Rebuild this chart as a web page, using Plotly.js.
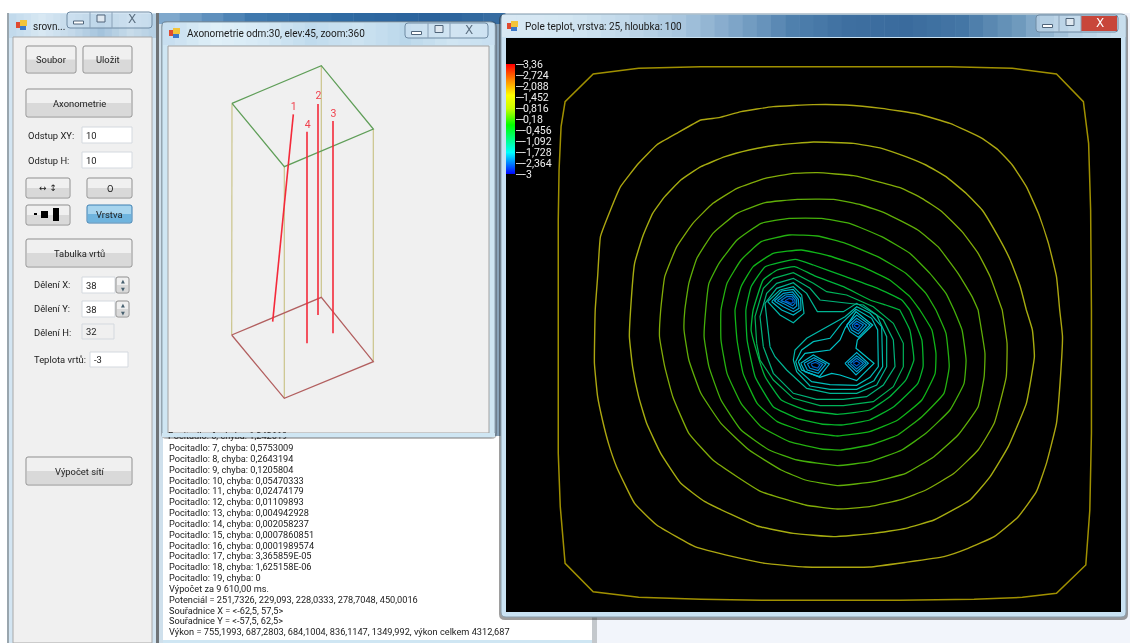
<!DOCTYPE html>
<html><head><meta charset="utf-8">
<script src="https://cdn.plot.ly/plotly-3.0.1.min.js"></script>
<style>html,body{margin:0;padding:0;background:#fff;overflow:hidden}#plot{width:1130px;height:643px;filter:blur(0.45px)}</style>
</head><body><div id="plot"></div>
<script>
// ---- Temperature field contours: flat x,y lists.
const upper01=[145,900,145,630,147,480,152,350,162,275,232,192,345,175,500,170,820,170,1120,170,1275,175,1385,192,1452,275,1465,400,1470,600,1472,900];
const lower01=[145,0,145,430,150,590,162,760,232,845,345,862,500,868,650,871,995,871,1180,868,1300,862,1385,850,1458,765,1468,600,1472,370,1472,0];
const upper02=[237,900,243,800,250,680,275,600,300,530,345,460,390,405,440,370,500,330,545,323,600,305,680,290,780,284,860,285,950,295,1040,312,1120,340,1200,385,1240,420,1275,465,1310,530,1340,610,1365,700,1385,800,1393,900];
const lower02=[237,0,235,160,243,260,255,330,270,400,290,470,335,580,390,645,485,710,580,740,660,760,760,771,920,771,1010,757,1105,740,1165,715,1230,680,1290,620,1335,545,1360,460,1385,340,1395,200,1400,80,1393,0];
const upper03=[325,900,335,760,355,680,380,610,410,560,450,510,500,470,560,440,620,420,690,405,780,396,880,400,950,415,1010,440,1060,465,1110,500,1160,550,1200,600,1240,680,1270,750,1295,830,1310,900];
const lower03=[325,0,322,80,330,170,345,260,365,340,400,430,450,520,510,575,640,648,730,670,830,680,930,670,1010,655,1080,630,1170,570,1220,500,1265,410,1310,280,1330,140,1325,60,1310,0];
const upper04=[400,900,410,800,440,710,480,640,530,580,590,535,660,505,730,490,790,488,880,497,940,515,1000,535,1050,565,1100,605,1150,665,1190,730,1220,800,1250,900];
const lower04=[400,0,397,80,410,170,430,260,470,370,530,450,590,500,650,545,760,585,840,597,920,590,1000,568,1060,540,1130,490,1190,420,1230,340,1260,200,1262,100,1250,0];
const upper05=[460,900,470,820,490,745,530,670,590,610,660,578,740,568,830,568,900,585,960,610,1040,660,1090,710,1140,790,1175,860,1190,900];
const lower05=[460,0,458,60,470,150,500,250,550,340,620,420,700,480,760,510,840,527,930,515,1010,490,1080,440,1140,375,1190,290,1205,200,1207,130,1190,0];
const upper06=[512,900,520,820,545,760,590,690,650,640,720,625,800,625,870,640,950,680,1020,730,1070,790,1110,850,1130,900];
const lower06=[512,0,508,80,520,170,550,270,600,360,670,420,740,450,840,467,920,455,1000,420,1060,370,1120,300,1155,220,1160,150,1150,60,1130,0];
const upper07=[550,900,565,820,600,750,650,695,720,675,790,678,860,700,940,740,1010,790,1060,850,1085,900];
const lower07=[550,0,550,90,565,190,600,280,650,350,720,395,800,417,850,420,920,405,990,375,1050,320,1105,250,1118,170,1110,70,1085,0];
const upper08=[585,900,600,830,630,770,680,730,750,720,820,738,900,770,970,810,1020,860,1045,900];
const lower08=[585,0,590,90,605,190,640,280,690,335,760,365,840,378,920,365,990,330,1050,270,1083,190,1085,130,1075,60,1045,0];
const upper09=[612,900,625,830,660,770,735,748,780,765,860,800,940,835,1000,870,1020,900];
const lower09=[612,0,615,90,635,200,680,290,740,325,800,342,850,345,920,330,980,290,1040,220,1053,170,1050,90,1020,0];
const upper10=[630,900,655,810,690,780,733,770,788,800,855,830,921,870,960,885,995,900];
const lower10=[630,0,625,60,640,130,660,200,700,270,760,300,840,313,920,300,970,260,1010,210,1030,150,1020,60,995,0];
const contourColors=['#a09000','#aca610','#a6ac10','#82ac08','#60ae08','#44b00a','#24b010','#10b418','#06b42a','#00b43c'];
// Inner contours around the four wells (finer coordinates).
const loop11=[80,250,75,170,100,85,130,55,190,38,250,70,290,95,350,105,430,140,490,190,520,250,520,320,490,380,430,425,340,437,270,437,190,415,130,360,90,300,80,250];
const loop12=[100,260,90,170,110,100,140,70,190,55,240,85,270,120,340,128,400,135,460,180,490,240,495,320,460,375,410,410,340,418,260,418,190,400,130,340,100,260];
const loop13=[120,260,105,130,140,85,190,68,230,100,262,155,340,155,380,130,440,165,470,230,470,320,440,375,380,400,300,400,230,385,170,330,135,290,120,260];
const loop14a=[113,125,150,90,190,80,215,105,222,160,190,188,150,165,113,125];
const loop14b=[190,300,195,270,230,235,300,195,345,170,380,140,420,160,455,200,458,320,432,362,380,388,300,388,240,378,200,335,190,300];
const loop14c=[197,305,215,270,250,245,300,235,335,190,378,148,425,175,443,210,445,320,420,352,380,376,300,374,245,365,205,330,197,305];
const loop15=[205,305,225,280,300,270,330,240,345,205,378,155,428,195,382,240,378,265,432,310,380,362,330,345,305,340,270,352,215,330,205,305];
const wellA1=[125,125,155,93,190,88,212,115,213,150,190,165,155,150,125,125];
const wellA2=[133,123,160,100,188,96,205,118,207,145,190,155,160,140,133,123];
const wellA3=[142,122,165,105,187,103,200,120,200,138,190,146,165,133,142,122];
const wellA4=[152,122,170,110,186,110,195,122,195,130,188,137,170,128,152,122];
const wellA5=[165,122,178,115,187,118,190,127,183,130,165,122];
const wellB1=[350,195,380,165,420,195,385,232,360,215,350,195];
const wellB2=[358,195,380,175,410,195,385,222,365,210,358,195];
const wellB3=[366,195,380,183,400,195,385,213,370,205,366,195];
const wellB4=[372,197,380,190,390,197,382,205,372,197];
const wellC1=[345,310,380,278,415,310,378,345,345,310];
const wellC2=[353,310,380,287,408,310,380,335,353,310];
const wellC3=[361,310,380,295,400,310,380,327,361,310];
const wellC4=[369,310,380,302,390,310,380,318,369,310];
const wellD1=[212,310,250,285,298,312,268,350,225,335,212,310];
const wellD2=[222,310,252,293,288,312,265,340,232,330,222,310];
const wellD3=[232,312,254,300,278,313,264,332,240,325,232,312];
const wellD4=[243,312,256,307,270,314,263,324,248,320,243,312];
// Colour scale
const scaleLevels=[3.36,2.724,2.088,1.452,0.816,0.18,-0.456,-1.092,-1.728,-2.364,-3];
const scaleLabels=['3,36','2,724','2,088','1,452','0,816','0,18','-0,456','-1,092','-1,728','-2,364','-3'];
// Axonometric box and boreholes
const boxTop=[216,265,484,152,640,342,373,455,216,265];
const boxBottom=[215,960,484,847,640,1040,373,1150,215,960];
const edge1=[216,265,215,960], edge2=[484,152,484,847], edge3=[640,342,640,1040], edge4=[373,455,373,1150];
const bore1=[400,298,338,920], bore2=[474,267,474,900], bore3=[519,318,519,955], bore4=[441,350,441,985];
const boreNames=['1','2','3','4'], boreLabelX=[401,475,520,443], boreLabelY=[278,245,297,331];
// Log
const logLines=['Pocitadlo: 7, chyba: 0,5753009','Pocitadlo: 8, chyba: 0,2643194','Pocitadlo: 9, chyba: 0,1205804','Pocitadlo: 10, chyba: 0,05470333','Pocitadlo: 11, chyba: 0,02474179','Pocitadlo: 12, chyba: 0,01109893','Pocitadlo: 13, chyba: 0,004942928','Pocitadlo: 14, chyba: 0,002058237','Pocitadlo: 15, chyba: 0,0007860851','Pocitadlo: 16, chyba: 0,0001989574','Pocitadlo: 17, chyba: 3,365859E-05','Pocitadlo: 18, chyba: 1,625158E-06','Pocitadlo: 19, chyba: 0','Výpočet za 9 610,00 ms.','Potenciál = 251,7326, 229,093, 228,0333, 278,7048, 450,0016','Souřadnice X = <-62,5, 57,5>','Souřadnice Y = <-57,5, 62,5>','Výkon = 755,1993, 687,2803, 684,1004, 836,1147, 1349,992, výkon celkem 4312,687'];

const FONT='Roboto, sans-serif';
const shapes=[], annotations=[], traces=[];
function rect(x0,y0,x1,y1,fill,line,lw,layer){shapes.push({type:'rect',xref:'x',yref:'y',x0,y0,x1,y1,fillcolor:fill,line:{color:line||fill,width:line?(lw||1):0},layer:layer||'below'});}
function rrect(x0,y0,x1,y1,r,fill,line,lw){shapes.push({type:'path',xref:'x',yref:'y',path:`M${x0+r},${y0}L${x1-r},${y0}Q${x1},${y0} ${x1},${y0+r}L${x1},${y1-r}Q${x1},${y1} ${x1-r},${y1}L${x0+r},${y1}Q${x0},${y1} ${x0},${y1-r}L${x0},${y0+r}Q${x0},${y0} ${x0+r},${y0}Z`,fillcolor:fill,line:{color:line||fill,width:line?(lw||1):0},layer:'below'});}
function label(x,y,text,opt){opt=opt||{};annotations.push({xref:'x',yref:'y',x,y,text,showarrow:false,xanchor:opt.anchor||'left',yanchor:'middle',borderpad:0,font:{family:opt.family||FONT,size:opt.size||9.4,color:opt.color||'#1a1a1a'}});}
function button(x0,y0,x1,y1,text,blue){
  rrect(x0,y0,x1,y1,2,blue?'#a6d4ee':'#f0f0f0',blue?'#3c7fb1':'#8f8f8f',1);
  rect(x0+1,(y0+y1)/2,x1-1,y1-1,blue?'#6fb4de':'#d9d9d9');
  if(text)label((x0+x1)/2,(y0+y1)/2,text,{anchor:'center',color:'#1c1c1c'});
}
function box(x0,y0,x1,y1,text,fill){rect(x0,y0,x1,y1,fill||'#fff','#d4d9df',1);if(text)label(x0+3,(y0+y1)/2,text);}
function icon(x,y){rect(x,y+2,x+5,y+8,'#e04a30');rect(x+4,y,x+11,y+6,'#f2c43a');rect(x+4,y+6,x+10,y+10,'#3c78c8');}
function captions(x0,x1,x2,x3,y0,y1,closeCol,glyph){
  rrect(x0,y0,x3,y1,3,'rgba(210,228,242,0.55)','#6f8aa3',1);
  if(closeCol)rect(x2,y0+1,x3-1,y1-1,closeCol);
  shapes.push({type:'line',xref:'x',yref:'y',x0:x1,x1:x1,y0,y1,line:{color:'#8aa2b8',width:1},layer:'below'});
  shapes.push({type:'line',xref:'x',yref:'y',x0:x2,x1:x2,y0,y1,line:{color:'#8aa2b8',width:1},layer:'below'});
  const my=(y0+y1)/2, a=(x0+x1)/2, b=(x1+x2)/2, c=(x2+x3)/2;
  rect(a-5,my+1,a+5,my+4,'#fff','#50657a',1);
  rect(b-4,my-5,b+4,my+2,'#dfe8f0','#50657a',1);
  label(c,my-1,'X',{anchor:'center',size:12,color:glyph,family:'"DejaVu Sans"'});
}
function band(x0,x1,y0,y1,stops){ // title-bar colour wash
  const n=stops.length-1, w=(x1-x0)/(n*4);
  const hex=c=>[1,3,5].map(i=>parseInt(c.substr(i,2),16));
  for(let i=0;i<n;i++){const a=hex(stops[i]),b=hex(stops[i+1]);
    for(let k=0;k<4;k++){const t=k/4,c=a.map((v,j)=>Math.round(v+(b[j]-v)*t));
      rect(x0+(i*4+k)*w,y0,x0+(i*4+k+1)*w+0.5,y1,`rgb(${c})`);}}
}
// ---- backdrop bands
rect(0,13,1130,643,'#f2f5fb');
rect(0,13,7,643,'#fff');
// back window strip
band(158,505,13,24,['#7fa8cc','#3f78ad','#2f6aa2','#2a629b','#3a6fa3']);
rect(495,24,501,437,'#8aa4ba');
// text box
rect(162,436,592,643,'#fff');
rect(162,640,592,643,'#cfe6f3');
rect(592,612,597,643,'#c4c8cc');
// left window
rect(7,13,158,643,'#d3e5f2');
band(9,156,14,38,['#c2daec','#d8e8f3','#c4d9ea','#a4c3dc','#c8dcea','#b0cce2']);
rect(7,13,9,643,'#9aa6ae');
rect(13,37,152,643,'#f0f0f0','#a8a8a8',1);
rect(156,13,159,643,'#6f7478');
rect(159,24,163,643,'#cfe0ec');
icon(16,20);
label(32,26,'srovn...',{size:10});
captions(67,90,112,152,12,28,null,'#5c6f80');
// left controls
button(26,46,76,73,'Soubor');button(83,46,132,73,'Uložit');
button(26,89,132,117,'Axonometrie');
label(27,135,'Odstup XY:');box(82,127,132,143,'10');
label(27,160,'Odstup H:');box(82,152,132,168,'10');
button(26,178,70,198,'');label(48,188,'↔ ↕',{anchor:'center',size:9,family:'"DejaVu Sans"'});
button(87,178,132,198,'O');
button(26,205,70,225,'');rect(34,213,37,215,'#000');rect(41,211,48,218,'#000');rect(53,208,59,221,'#000');
button(87,205,132,223,'Vrstva',true);
button(26,239,132,267,'Tabulka vrtů');
label(33,284,'Dělení X:');box(82,277,115,293,'38');
label(33,308,'Dělení Y:');box(82,301,115,317,'38');
button(116,277,129,293,'');button(116,301,129,317,'');
label(122.5,281,'▲',{anchor:'center',size:5,family:'"DejaVu Sans"',color:'#47606f'});label(122.5,289,'▼',{anchor:'center',size:5,family:'"DejaVu Sans"',color:'#47606f'});
label(122.5,305,'▲',{anchor:'center',size:5,family:'"DejaVu Sans"',color:'#47606f'});label(122.5,313,'▼',{anchor:'center',size:5,family:'"DejaVu Sans"',color:'#47606f'});
label(33,332,'Dělení H:');box(82,324,114,339,'32','#f0f0f0');
label(33,359,'Teplota vrtů:');box(90,352,128,367,'-3');
button(26,457,132,485,'Výpočet sítí');
// axonometry window
rrect(161,21,497,439,6,'rgba(60,60,60,0.35)');
rrect(162,22,495,437,5,'#cfe6f3','#8fa3b2',1);
band(163,494,23,45,['#c8dff0','#e0f0f8','#d6e9f5','#c0dbed','#cde3f1','#bad7ea','#d0e5f2','#c6def0']);
rect(168,46,489,433,'#f0f0f0','#a2a2a2',1);
icon(169,28);
label(186,33,'Axonometrie odm:30, elev:45, zoom:360',{size:10});
captions(405,428,450,488,23,38,null,'#5c6f80');
// thermal window
rrect(499,14,1128,620,6,'rgba(40,40,40,0.45)');
rrect(501,14,1126,617,5,'#c9e2f3','#8b9eac',1);
band(502,1125,15,37,['#d8e8f3','#d3e6f2','#c2d9ea','#a9c6de','#7ea5c8','#4f80ad','#3e6fa0','#3a6b9d','#4476a5','#6f9abd','#b4cfe3','#cfe3f0']);
rect(506,38,1121,612,'#000');
icon(507,21);
label(524,26,'Pole teplot, vrstva: 25, hloubka: 100',{size:10});
captions(1036,1059,1081,1118,15,32,'#c8463a','#fff');

// ---- axes: full-window layout axis + one axis pair per drawn panel
const W=1130,H=643;
const layout={width:W,height:H,margin:{l:0,r:0,t:0,b:0,pad:0},paper_bgcolor:'#fff',plot_bgcolor:'rgba(0,0,0,0)',showlegend:false,hovermode:false,
 xaxis:{range:[0,W],domain:[0,1],visible:false,fixedrange:true},
 yaxis:{range:[H,0],domain:[0,1],visible:false,fixedrange:true},
 xaxis2:{range:[0,1568],domain:[500/W,1],visible:false,anchor:'y2',fixedrange:true},
 yaxis2:{range:[1899,0],domain:[0,(H-10)/H],visible:false,anchor:'x2',fixedrange:true},
 xaxis3:{range:[0,1020],domain:[160/W,500/W],visible:false,anchor:'y3',fixedrange:true},
 yaxis3:{range:[1275,0],domain:[(H-440)/H,(H-15)/H],visible:false,anchor:'x3',fixedrange:true},
 xaxis4:{range:[-90,690],domain:[700/W,960/W],visible:false,anchor:'y4',fixedrange:true},
 yaxis4:{range:[540,-60],domain:[(H-440)/H,(H-240)/H],visible:false,anchor:'x4',fixedrange:true},
 xaxis5:{range:[0,1],domain:[506/W,515/W],visible:false,anchor:'y5',fixedrange:true},
 yaxis5:{range:[-3,3.36],domain:[(H-174)/H,(H-64)/H],anchor:'x5',side:'right',fixedrange:true,showgrid:false,zeroline:false,showline:false,
   tickmode:'array',tickvals:scaleLevels,ticktext:scaleLabels,ticks:'outside',ticklen:8,tickwidth:1,tickcolor:'#ccc',ticklabelstandoff:-3,
   tickfont:{family:'Roboto, sans-serif',size:10.5,color:'#eee'}},
 shapes,annotations};

function xs(a){return a.filter((_,i)=>i%2===0);}
function ys(a){return a.filter((_,i)=>i%2===1);}
function poly(pts,color,w,xa,ya){traces.push({type:'scatter',mode:'lines',x:xs(pts),y:ys(pts),xaxis:xa,yaxis:ya,line:{color,width:w,shape:'linear'},hoverinfo:'skip'});}
// clipped log line behind the axonometry window
traces.push({type:'scatter',mode:'text',x:[168],y:[437],text:['Pocitadlo: 6, chyba: 1,242619'],textposition:'middle right',textfont:{family:FONT,size:9.2,color:'#222'},xaxis:'x',yaxis:'y',hoverinfo:'skip'});
shapes.push({type:'rect',xref:'x',yref:'y',x0:162,x1:495,y0:433,y1:437,fillcolor:'#cfe6f3',line:{width:0},layer:'above'});
const uppers=[upper01,upper02,upper03,upper04,upper05,upper06,upper07,upper08,upper09,upper10];
const lowers=[lower01,lower02,lower03,lower04,lower05,lower06,lower07,lower08,lower09,lower10];
uppers.forEach((u,i)=>{
  const low=lowers[i], x=xs(u), y=ys(u), lx=xs(low), ly=ys(low);
  for(let k=lx.length-1;k>=1;k--){x.push(lx[k]);y.push(ly[k]+900);}
  x.push(x[0]);y.push(y[0]);
  const line=i===0?{color:contourColors[i],width:1.5,shape:'linear'}:{color:contourColors[i],width:i<3?1.4:1.3,shape:'spline',smoothing:0.35};
  traces.push({type:'scatter',mode:'lines',x,y,xaxis:'x2',yaxis:'y2',line,hoverinfo:'skip'});
});
const inner=[[loop11,'#00b258'],[loop12,'#00b278'],[loop13,'#00b492'],[loop14a,'#00b8aa'],[loop14b,'#00b8aa'],[loop14c,'#00bcb8'],[loop15,'#00c4c8'],
 [wellA1,'#00b8c4'],[wellA2,'#00a8d0'],[wellA3,'#0094d0'],[wellA4,'#007ad0'],[wellA5,'#0058c8'],
 [wellB1,'#00b4d0'],[wellB2,'#009cd0'],[wellB3,'#0084d0'],[wellB4,'#0058c8'],
 [wellC1,'#00b4d0'],[wellC2,'#009cd0'],[wellC3,'#0084d0'],[wellC4,'#0058c8'],
 [wellD1,'#00b8c8'],[wellD2,'#00a4d0'],[wellD3,'#008cd0'],[wellD4,'#0060c8']];
inner.forEach(([p,c])=>poly(p,c,1.2,'x4','y4'));
// colour bar
traces.push({type:'heatmap',x:[0,1],y:scaleLevels,z:scaleLevels.map(v=>[v,v]),xaxis:'x5',yaxis:'y5',zmin:-3,zmax:3.36,zsmooth:'best',showscale:false,hoverinfo:'skip',
 colorscale:[[0,'#0000ff'],[0.2,'#00ffff'],[0.45,'#00ff00'],[0.6,'#c8ff00'],[0.72,'#ffff00'],[0.85,'#ff9000'],[1,'#ff0000']]});
// axonometry
poly(edge1,'#cdc792',1.3,'x3','y3');poly(edge2,'#cdc792',1.3,'x3','y3');poly(edge3,'#cdc792',1.3,'x3','y3');poly(edge4,'#cdc792',1.3,'x3','y3');
poly(boxTop,'#5f9e58',1.3,'x3','y3');poly(boxBottom,'#b25f5f',1.3,'x3','y3');
[bore1,bore2,bore3,bore4].forEach(b=>poly(b,'#f42a3a',1.6,'x3','y3'));
traces.push({type:'scatter',mode:'text',x:boreLabelX,y:boreLabelY,text:boreNames,textposition:'middle center',textfont:{family:FONT,size:10.5,color:'#f0404c'},xaxis:'x3',yaxis:'y3',hoverinfo:'skip'});
// log
logLines.forEach((t,i)=>label(168,447.7+i*10.82,t,{size:9.2}));
Plotly.newPlot('plot',traces,layout,{displayModeBar:false,staticPlot:true});
</script></body></html>
